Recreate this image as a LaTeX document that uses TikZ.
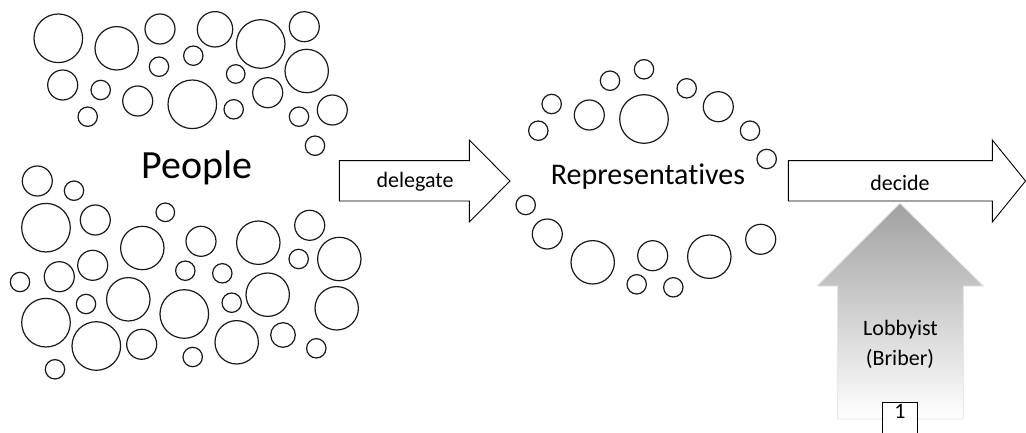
\documentclass[tikz,border=0pt]{standalone}
\usepackage{fontspec}
\setmainfont{Carlito}[Ligatures=NoCommon]
\begin{document}
\begin{tikzpicture}[x=1pt,y=-1pt,
  bubble/.style={draw=black!90,line width=1.2pt},
  bigarrow/.style={draw=black,line width=0.9pt,fill=white},
  lbl/.style={font=\fontsize{22}{26}\selectfont,inner sep=0pt}]
\useasboundingbox (0,0) rectangle (1026,433);
% People bubbles
\foreach \x/\y/\r in {58.3/38.3/24.3,116.7/48.3/21.7,160/29/15,215/29.3/17.7,260.7/44/24.3,304.3/26.7/15,
  193.3/55.7/9.7,159/66.7/9.7,235.7/74/9.3,306.7/71/21.7,62.7/85/15,100.7/90/9.7,137.7/101/15,
  192.3/104.3/24.3,233.7/109.3/9.7,267.7/92.7/15,87.7/116.7/9.7,299/116.7/9.7,332.3/110/15,315/145.7/9.7,
  37.3/181/15,74/190.7/9.7,46/227.7/24.3,95.3/220/15,165.3/212.3/9.3,142.3/248/21.7,201/241.3/15,
  258.3/242.7/21.7,309.7/225.3/15,298.7/259/9.7,339.3/259/21.7,20/282/9.7,59.3/276.7/15,92.7/265.3/15,
  185.3/270.7/9.7,222.3/273.3/9.7,128.3/299.3/21.7,86/304/9.7,46/322.7/24.3,184.3/314/24.3,
  231.7/302.7/9.7,267.7/294.7/21.7,336.7/308.3/21.7,96.3/346/24.3,141.7/344.3/15,236.7/342.3/21.7,
  283/335/12.3,316.3/348.3/9.7,192.7/357/9.7,55/369.3/9.7}
  \draw[bubble] (\x,\y) circle[radius=\r];
% Representatives bubbles
\foreach \x/\y/\r in {644/69.3/9.7,610/80.7/9.7,686.7/88.3/9.7,551.7/104/9.7,589.3/115/15,644/119/24.3,
  718.3/106.7/15,538.3/130.7/9.7,750/130.7/9.7,766.7/159/9.7,525.7/205/9.7,547.3/234/15,592.7/262.3/21.7,
  652.7/255.7/15,709.3/256.7/21.7,760.7/239.3/15,636.7/284.3/9.7,673.3/287.3/9.7}
  \draw[bubble] (\x,\y) circle[radius=\r];
\node[inner sep=0pt,font=\fontsize{40}{44}\selectfont] (people) at (197,168) {People};
\node[inner sep=0pt,font=\fontsize{30}{34}\selectfont] (reps) at (648,177) {Representatives};
% delegate arrow
\draw[bigarrow] (339.3,160.7) -- (469.3,160.7) -- (469.3,140) -- (510,181) -- (469.3,222) -- (469.3,201) -- (339.3,201) -- cycle;
\node[lbl] (delegate) at (415,181.5) {delegate};
% decide arrow
\draw[bigarrow] (788.3,160.7) -- (992.3,160.7) -- (992.3,140) -- (1025.5,181) -- (992.3,222) -- (992.3,201) -- (788.3,201) -- cycle;
\node[lbl] (decide) at (900,182.5) {decide};
% lobbyist arrow
\path[draw=black!12,line width=0.8pt,top color=black!37,bottom color=white]
  (900,203.3) -- (983.3,286) -- (963.3,286) -- (963.3,419) -- (837.7,419) -- (837.7,286) -- (817.3,286) -- cycle;
\node[lbl] (lobby) at (900.5,330) {Lobbyist};
\node[lbl] (briber) at (900,359.3) {(Briber)};
\node[draw=black,line width=0.9pt,fill=white,minimum width=34.6pt,minimum height=40pt,anchor=north,inner sep=0pt] (one) at (900,402.3) {};
\node[lbl] (onetext) at (900,411) {1};
\end{tikzpicture}
\end{document}
